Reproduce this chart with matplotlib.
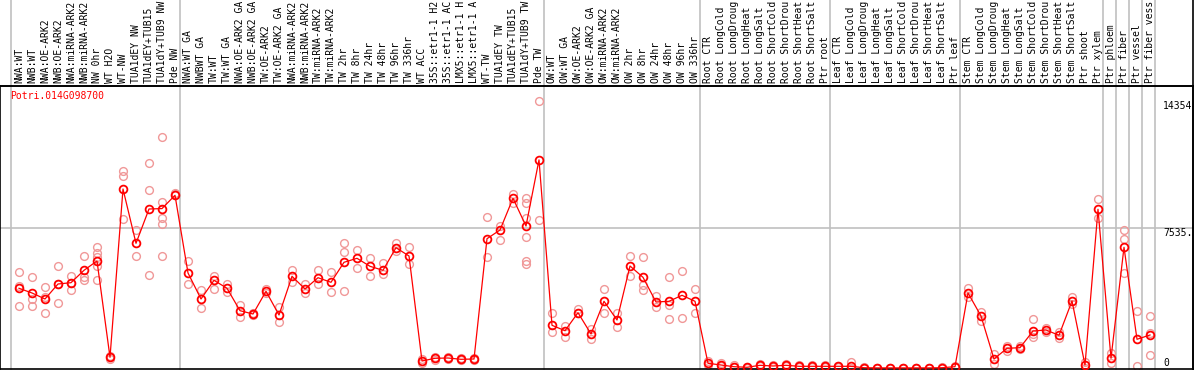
import numpy as np
import matplotlib
matplotlib.use("Agg")
import matplotlib.pyplot as plt
from matplotlib.lines import Line2D

plt.rcParams['font.family'] = ['DejaVu Sans Mono']

gene = "Potri.014G098700"

# sample names, cut as in the original chart header
labels = [
    "NWA:WT", "NWB:WT", "NWA:OE-ARK2", "NWB:OE-ARK2", "NWA:miRNA-ARK2", "NWB:miRNA-ARK2",
    "NW 0hr", "WT H2O", "WT-NW", "TUA1dEY NW", "TUA1dEY+TUB15", "TUA1dY+TUB9 NW", "Pde NW",
    "NWA:WT GA", "NWBWT GA", "TW:WT", "TW:WT GA", "NWA:OE-ARK2 GA", "NWB:OE-ARK2 GA",
    "TW:OE-ARK2", "TW:OE-ARK2 GA", "NWA:miRNA-ARK2", "NWB:miRNA-ARK2", "TW:miRNA-ARK2",
    "TW:miRNA-ARK2", "TW 2hr", "TW 8hr", "TW 24hr", "TW 48hr", "TW 96hr", "TW 336hr",
    "WT ACC", "35S::etr1-1 H2", "35S::etr1-1 AC", "LMX5::etr1-1 H", "LMX5::etr1-1 A",
    "WT-TW", "TUA1dEY TW", "TUA1dEY+TUB15", "TUA1dY+TUB9 TW", "Pde TW",
    "OW:WT", "OW:WT GA", "OW:OE-ARK2", "OW:OE-ARK2 GA", "OW:miRNA-ARK2", "OW:miRNA-ARK2",
    "OW 2hr", "OW 8hr", "OW 24hr", "OW 48hr", "OW 96hr", "OW 336hr",
    "Root CTR", "Root LongCold", "Root LongDroug", "Root LongHeat", "Root LongSalt",
    "Root ShortCold", "Root ShortDrou", "Root ShortHeat", "Root ShortSalt", "Ptr root",
    "Leaf CTR", "Leaf LongCold", "Leaf LongDroug", "Leaf LongHeat", "Leaf LongSalt",
    "Leaf ShortCold", "Leaf ShortDrou", "Leaf ShortHeat", "Leaf ShortSalt", "Ptr leaf",
    "Stem CTR", "Stem LongCold", "Stem LongDroug", "Stem LongHeat", "Stem LongSalt",
    "Stem ShortCold", "Stem ShortDrou", "Stem ShortHeat", "Stem ShortSalt",
    "Ptr shoot", "Ptr xylem", "Ptr phloem", "Ptr fiber", "Ptr vessel", "Ptr fiber vess",
]

means = [
    4290, 4037, 3714, 4521, 4591, 5258, 5759, 576, 9634, 6711, 8557, 8580, 9295,
    5113, 3714, 4720, 4290, 3084, 2906, 4128, 2852, 4935, 4252, 4860, 4612,
    5689, 5904, 5473, 5258, 6475, 6028,
    377, 522, 538, 468, 484, 6959, 7427, 9133, 7642, 11200,
    2298, 2007, 2976, 1830, 3590, 2583, 5490, 4881, 3552, 3590, 3913, 3590,
    253, 161, 70, 38, 145, 108, 145, 91, 91, 91,
    91, 91, 15, 5, 5, 5, 5, 5, 15, 70,
    4037, 2799, 484, 1060, 1093, 1991, 2045, 1760, 3606,
    161, 8541, 522, 6496, 1545, 1776,
]

reps = [
    [5151, 4413, 3321], [4881, 3714, 3321], [4343, 3837, 2944], [5473, 3482, 4521],
    [4951, 4591, 4182], [6012, 4914, 4736], [6512, 6173, 5990, 5506, 4720], [662, 468],
    [10603, 10333, 8019], [7427, 6028], [11017, 9580, 4989], [12432, 8918, 8089, 7750, 6028],
    [9435, 9365],
    [5743, 4505], [4198, 3213], [4968, 4236], [4505, 4074], [3391, 2729], [2976, 2852],
    [4252, 4037], [3299, 2460], [5274, 4645], [4505, 4020], [5274, 4505], [5151, 4074],
    [6711, 6227, 4144], [6351, 5366], [5936, 4935], [5651, 5075], [6744, 6281], [6496, 5597],
    [468, 285], [592, 457], [565, 511], [522, 414], [538, 431],
    [8127, 5958], [7642, 6889], [9365, 8900], [9133, 8864, 8073, 7067, 5759, 5581],
    [14354, 7965],
    [2944, 1954], [2260, 1652], [3175, 2976], [2115, 1545], [4236, 2944], [2944, 2223],
    [6028, 4951], [5958, 4467, 4198], [3875, 3267], [4881, 3374, 2621], [5221, 2675],
    [4236, 2944],
    [393, 161], [269, 108], [135, 54], [54, 10], [215, 108], [161, 54], [215, 81],
    [161, 27], [135, 54], [135, 54],
    [108, 54], [339, 0], [30, 5], [10, 0], [10, 0], [10, 0], [10, 0], [10, 0], [30, 5],
    [108, 54],
    [4306, 3805], [3030, 2546], [753, 215], [915, 1184], [1184, 996], [2637, 1685, 1830],
    [2137, 1954], [1921, 1598], [3837, 3444],
    [339, 0], [9079, 8057], [791, 285], [7427, 6927, 5129], [3068, 108], [2783, 1868, 700],
]

# group separators (after these sample indices)
sep_after = [-1, 12, 40, 52, 62, 72, 83, 84, 85, 86, 87]
ref_value = 7535.5
max_value = 14354

W, H = 1194, 370
fig = plt.figure(figsize=(W / 100, H / 100), dpi=100)
ax_top, ax_bot, ax_right = 86, 369, 1193
ax = fig.add_axes([0, 1 - ax_bot / H, ax_right / W, (ax_bot - ax_top) / H])

x = np.arange(len(labels))
x0 = 19 / 13
ax.set_xlim(-x0, ax_right / 13 - x0)
ax.set_ylim(-54, 15177)

for xs in sep_after:
    ax.axvline(xs + 5 / 13, ymin=0, ymax=H / (ax_bot - ax_top), color='#c0c0c0', lw=1.2,
               clip_on=False, zorder=0)
ax.axhline(ref_value, color='#c0c0c0', lw=1.2, zorder=0)

for i, r in enumerate(reps):
    ax.plot([i] * len(r), r, 'o', mfc='none', mec='#f09898', ms=5.6, mew=1.0, zorder=2)
ax.plot(x, means, '-', color='#ff0000', lw=0.9, zorder=3)
ax.plot(x, means, 'o', mfc='none', mec='#ff0000', ms=5.6, mew=1.3, zorder=4)

for i, lab in enumerate(labels):
    ax.text(i, 1 + 3 / (ax_bot - ax_top), lab, transform=ax.get_xaxis_transform(),
            rotation=90, ha='center', va='bottom', fontsize=7.0, clip_on=False)

ax.text(10 / ax_right, 1 - 5 / (ax_bot - ax_top), gene, transform=ax.transAxes,
        color='#ff0000', fontsize=7.0, ha='left', va='top')

tx = 1163 / 13 - x0
ax.text(tx, max_value, str(max_value), fontsize=7.0, ha='left', va='top', clip_on=False)
ax.text(tx, ref_value, "7535.", fontsize=7.0, ha='left', va='top', clip_on=False)
ax.text(tx, 0, "0", fontsize=7.0, ha='left', va='bottom', clip_on=False)

for s in ax.spines.values():
    s.set_color('black')
    s.set_linewidth(1.2)
ax.set_xticks([])
ax.set_yticks([])

# top rule spans full width, right rule spans full height
fig.add_artist(Line2D([0, 1], [1 - ax_top / H] * 2, color='black', lw=1.2))
fig.add_artist(Line2D([ax_right / W] * 2, [0, 1], color='black', lw=1.2))

fig.savefig("out.png", dpi=100)
